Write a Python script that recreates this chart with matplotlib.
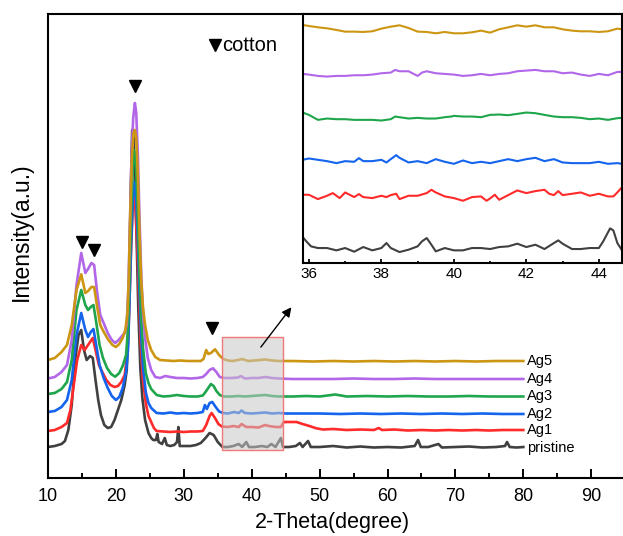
import matplotlib
matplotlib.use("Agg")
import matplotlib.pyplot as plt
from matplotlib.ticker import MultipleLocator
from matplotlib.patches import Rectangle

plt.rcParams["font.family"] = ["Liberation Sans", "DejaVu Sans"]

# ---- data: (2-theta, intensity a.u.), stacked ----
pristine = [
    (10.0, 31), (11.0, 32), (12.0, 34), (12.5, 37), (13.0, 48), (13.5, 73),
    (14.0, 118), (14.5, 143), (14.9, 148), (15.3, 128), (15.7, 118), (16.2, 122),
    (16.6, 120), (17.0, 98), (17.4, 78), (17.8, 63), (18.3, 53), (18.8, 50),
    (19.3, 51), (19.8, 58), (20.3, 68), (20.8, 78), (21.3, 93), (21.6, 108),
    (21.8, 140), (22.0, 210), (22.2, 290), (22.4, 348), (22.6, 343), (22.8, 305),
    (23.05, 240), (23.3, 170), (23.6, 110), (23.9, 80), (24.3, 58), (24.8, 45),
    (25.2, 40), (25.5, 38), (25.9, 38), (26.1, 44), (26.3, 36), (26.8, 34),
    (27.2, 40), (27.5, 33), (28.0, 32), (28.6, 33), (29.0, 36), (29.2, 51),
    (29.4, 32), (30.0, 32), (31.0, 32), (31.8, 33), (32.5, 35), (33.2, 40),
    (33.8, 45), (34.4, 43), (35.0, 36), (35.7, 31), (36.5, 31), (37.3, 32),
    (38.1, 34), (38.6, 31), (39.2, 36), (39.6, 31), (40.5, 31), (41.5, 32),
    (42.3, 31), (42.9, 34), (43.5, 31), (44.3, 40), (44.6, 31), (45.5, 31),
    (46.5, 32), (47.1, 35), (47.5, 31), (48.3, 37), (48.7, 31), (50.0, 31),
    (52.0, 32), (54.0, 30.5), (56.0, 31.5), (58.0, 30.5), (60.0, 31), (62.0, 30.5),
    (64.0, 32), (64.5, 38), (64.9, 31), (66.0, 31), (67.5, 34), (68.0, 30.5),
    (70.0, 31), (72.0, 31.5), (74.0, 30.5), (76.0, 31), (77.3, 32), (77.6, 36),
    (78.0, 31), (79.0, 30.5), (80.0, 31),
]
ag1 = [
    (10.0, 47), (11.0, 48), (12.0, 51), (12.8, 55), (13.3, 68), (13.8, 93),
    (14.3, 118), (14.9, 133), (15.4, 128), (15.9, 133), (16.6, 140), (17.0, 128),
    (17.5, 113), (18.0, 106), (18.6, 98), (19.2, 93), (19.8, 91), (20.3, 92),
    (20.8, 96), (21.3, 103), (21.7, 125), (21.95, 165), (22.2, 220), (22.45, 265),
    (22.65, 278), (22.9, 268), (23.15, 230), (23.4, 180), (23.65, 135), (23.95, 100),
    (24.4, 75), (24.8, 62), (25.2, 56), (25.6, 50), (26.0, 47), (27.0, 46.5),
    (28.0, 46), (29.0, 46.5), (30.0, 46), (31.0, 46.5), (32.0, 46.5), (32.8, 47),
    (33.3, 53), (33.8, 62), (34.1, 65), (34.6, 60), (35.1, 54), (35.6, 51.5),
    (36.5, 51), (37.3, 52), (38.1, 51), (38.5, 54), (39.2, 51), (40.0, 51),
    (41.0, 50.5), (42.0, 53), (42.5, 52), (43.5, 51), (44.3, 51), (44.7, 56),
    (45.5, 56), (46.6, 56), (47.5, 54), (48.5, 52), (49.5, 49.7), (50.5, 48.5),
    (52.0, 49), (54.0, 48), (56.0, 48.5), (58.0, 48), (58.7, 50), (59.2, 48),
    (61.0, 48.5), (63.0, 47.5), (65.0, 48), (67.0, 47.5), (69.0, 48), (71.0, 47.5),
    (73.0, 48), (75.0, 47.5), (77.0, 48), (80.0, 48),
]
ag2 = [
    (10.0, 66), (11.0, 67), (12.0, 71), (12.8, 78), (13.5, 98), (14.2, 143),
    (14.9, 165), (15.5, 148), (15.9, 141), (16.3, 146), (16.7, 149), (17.1, 133),
    (17.6, 113), (18.2, 100), (18.8, 90), (19.4, 82), (20.0, 78), (20.5, 81),
    (21.0, 90), (21.5, 106), (21.8, 130), (22.0, 175), (22.25, 235), (22.5, 280),
    (22.7, 296), (22.95, 285), (23.2, 245), (23.45, 190), (23.7, 145), (24.0, 110),
    (24.4, 86), (24.8, 75), (25.2, 70), (26.0, 65), (27.0, 64.5), (28.0, 65.5),
    (29.0, 64.5), (30.0, 65), (31.0, 64.5), (32.0, 65), (32.8, 66), (33.1, 73),
    (33.4, 69), (33.8, 75), (34.2, 76), (34.7, 71), (35.2, 66.5), (35.8, 65),
    (36.5, 64.5), (37.4, 66), (38.1, 65), (38.5, 67.5), (39.0, 65), (40.0, 64.5),
    (41.0, 65), (42.0, 65.5), (43.0, 64.5), (44.0, 65), (45.0, 64.5), (47.0, 64.5),
    (50.0, 64.5), (53.0, 64), (56.0, 64.5), (59.0, 64), (62.0, 64.5), (65.0, 64),
    (68.0, 64.5), (71.0, 64), (74.0, 64.5), (77.0, 64), (80.0, 64),
]
ag3 = [
    (10.0, 84), (11.0, 85), (12.0, 89), (12.8, 96), (13.5, 118), (14.2, 168),
    (14.9, 188), (15.5, 173), (15.9, 168), (16.3, 171), (16.7, 173), (17.1, 156),
    (17.6, 133), (18.1, 120), (18.7, 110), (19.3, 104), (19.9, 101.3), (20.5, 105),
    (21.0, 112), (21.5, 123), (21.8, 150), (22.0, 200), (22.25, 265), (22.5, 310),
    (22.7, 328), (22.95, 315), (23.2, 270), (23.45, 210), (23.7, 165), (24.0, 130),
    (24.4, 105), (24.8, 95), (25.2, 89), (26.0, 83), (27.0, 81.5), (28.0, 82),
    (29.0, 83), (30.0, 82), (31.0, 81.5), (32.0, 81.5), (32.8, 82.5), (33.2, 86),
    (33.6, 90), (34.0, 94), (34.4, 92), (34.8, 87), (35.3, 83), (35.9, 81.5),
    (37.0, 81.5), (38.0, 82), (39.0, 81.5), (40.0, 82), (41.0, 82.5), (42.0, 83),
    (43.0, 82), (44.0, 81.5), (46.0, 81.5), (48.0, 82), (50.0, 81.5), (52.3, 83.5),
    (54.0, 81.5), (57.0, 82), (60.0, 81.5), (63.0, 82), (66.0, 81.5), (69.0, 81.5),
    (72.0, 82), (75.0, 81.5), (78.0, 81.5), (80.0, 81.5),
]
ag4 = [
    (10.0, 99.5), (11.0, 101), (12.0, 106), (12.8, 113), (13.5, 138), (14.2, 193),
    (14.9, 225), (15.5, 205), (15.9, 209), (16.4, 215), (16.8, 213), (17.2, 188),
    (17.7, 163), (18.2, 155), (18.8, 145), (19.4, 138), (19.9, 135), (20.4, 138),
    (20.9, 142), (21.3, 145), (21.6, 153), (21.85, 190), (22.05, 250), (22.3, 320),
    (22.55, 360), (22.8, 375), (23.0, 365), (23.25, 320), (23.5, 255), (23.75, 200),
    (24.0, 165), (24.3, 140), (24.7, 120), (25.2, 108), (25.8, 101), (26.5, 100),
    (27.3, 102), (28.0, 101), (29.0, 100), (30.0, 100), (31.0, 99.5), (32.0, 100),
    (32.8, 101), (33.3, 104), (33.8, 108), (34.3, 109.7), (34.8, 106), (35.3, 101),
    (36.0, 100), (37.0, 100), (38.0, 100.5), (38.4, 102), (39.0, 99.5), (40.0, 100),
    (41.0, 100), (42.0, 101), (43.0, 100), (44.0, 99.5), (46.0, 99), (49.0, 99),
    (52.0, 99), (55.0, 99.5), (58.0, 99), (61.0, 99), (64.0, 99.5), (67.0, 99),
    (70.0, 99), (73.0, 99), (76.0, 99), (80.0, 99),
]
ag5 = [
    (10.0, 118), (11.0, 120), (12.0, 126), (12.8, 133), (13.5, 153), (14.2, 188),
    (14.9, 203.7), (15.5, 185), (15.9, 187), (16.4, 191), (16.8, 191), (17.2, 173),
    (17.7, 153), (18.3, 145), (18.9, 138), (19.5, 133), (20.0, 131), (20.5, 134),
    (21.0, 140), (21.4, 148), (21.7, 165), (21.9, 200), (22.1, 260), (22.35, 320),
    (22.6, 345), (22.8, 348), (23.0, 340), (23.25, 300), (23.5, 240), (23.75, 195),
    (24.0, 170), (24.3, 153), (24.7, 138), (25.2, 128), (25.8, 121), (26.5, 118),
    (27.5, 117.5), (28.5, 117), (29.5, 117.5), (30.5, 117), (31.5, 117), (32.5, 117),
    (32.9, 119), (33.3, 128), (33.6, 124), (34.0, 125), (34.6, 128.7), (35.2, 123),
    (35.8, 119), (36.5, 117.5), (37.2, 117), (38.0, 118), (38.6, 119), (39.5, 117),
    (40.3, 117.5), (41.2, 118), (42.0, 118.5), (43.0, 117.5), (44.0, 117), (46.0, 117),
    (49.0, 116.5), (52.0, 117), (55.0, 116.5), (58.0, 117), (61.0, 116.5), (64.0, 117),
    (67.0, 116.5), (70.0, 117), (73.0, 116.5), (76.0, 117), (80.0, 117),
]

# zoomed 36-44.6 deg region (inset), its own offsets
inset_pristine = [
    (35.83, 78), (35.93, 65), (36.06, 50), (36.25, 45), (36.5, 45), (36.76, 38),
    (37.0, 45), (37.25, 34), (37.5, 48), (37.75, 38), (38.0, 45), (38.14, 60),
    (38.26, 45), (38.5, 33), (38.75, 40), (39.0, 50), (39.12, 65), (39.25, 75),
    (39.38, 55), (39.5, 35), (39.75, 45), (40.0, 38), (40.25, 38), (40.5, 45),
    (40.75, 45), (41.0, 42), (41.25, 48), (41.5, 50), (41.75, 58), (42.0, 48),
    (42.25, 55), (42.5, 42), (42.76, 60), (42.88, 68), (43.0, 58), (43.26, 42),
    (43.5, 42), (43.75, 45), (44.0, 45), (44.12, 65), (44.31, 104), (44.4, 98),
    (44.51, 60), (44.64, 38),
]
inset_ag1 = [
    (35.83, 205), (36.0, 205), (36.25, 192), (36.5, 202), (36.66, 210), (36.85, 195),
    (37.0, 212), (37.25, 198), (37.38, 207), (37.5, 198), (37.75, 195), (38.0, 202),
    (38.14, 198), (38.26, 204), (38.41, 208), (38.5, 192), (38.75, 202), (39.0, 202),
    (39.25, 210), (39.38, 220), (39.5, 212), (39.75, 200), (40.0, 195), (40.25, 187),
    (40.5, 198), (40.75, 200), (40.9, 187), (41.0, 194), (41.13, 205), (41.25, 190),
    (41.5, 204), (41.75, 218), (42.0, 210), (42.25, 216), (42.5, 220), (42.63, 208),
    (42.76, 204), (42.88, 216), (43.0, 204), (43.26, 208), (43.5, 212), (43.75, 202),
    (44.0, 208), (44.25, 200), (44.4, 200), (44.51, 212), (44.64, 228),
]
inset_ag2 = [
    (35.83, 310), (36.0, 314), (36.25, 310), (36.5, 306), (36.76, 300), (37.0, 306),
    (37.25, 304), (37.38, 315), (37.5, 306), (37.75, 306), (38.0, 310), (38.14, 302),
    (38.26, 312), (38.41, 324), (38.5, 316), (38.75, 302), (39.0, 306), (39.25, 300),
    (39.5, 312), (39.75, 304), (40.0, 298), (40.25, 308), (40.5, 300), (40.75, 304),
    (41.0, 300), (41.25, 306), (41.5, 312), (41.75, 306), (42.0, 312), (42.25, 316),
    (42.5, 306), (42.76, 312), (43.0, 302), (43.26, 300), (43.5, 300), (43.75, 300),
    (44.0, 304), (44.25, 298), (44.51, 300), (44.64, 298),
]
inset_ag3 = [
    (35.83, 452), (36.0, 445), (36.25, 430), (36.5, 434), (36.76, 432), (37.0, 432),
    (37.25, 430), (37.5, 430), (37.75, 430), (38.0, 428), (38.26, 432), (38.38, 440),
    (38.5, 438), (38.75, 434), (39.0, 436), (39.25, 434), (39.5, 434), (39.75, 438),
    (39.93, 440), (40.0, 442), (40.25, 440), (40.5, 440), (40.75, 438), (41.0, 445),
    (41.25, 446), (41.5, 444), (41.75, 448), (42.0, 452), (42.25, 450), (42.5, 445),
    (42.76, 440), (43.0, 438), (43.26, 438), (43.5, 436), (43.75, 432), (44.0, 434),
    (44.25, 430), (44.51, 435), (44.64, 436),
]
inset_ag4 = [
    (35.83, 568), (36.0, 566), (36.25, 562), (36.5, 560), (36.76, 562), (37.0, 562),
    (37.25, 564), (37.5, 564), (37.75, 566), (38.0, 570), (38.26, 572), (38.38, 580),
    (38.5, 576), (38.75, 576), (39.0, 562), (39.12, 572), (39.25, 576), (39.5, 570),
    (39.75, 568), (40.0, 566), (40.25, 562), (40.5, 564), (40.75, 568), (41.0, 564),
    (41.25, 568), (41.5, 570), (41.75, 576), (42.0, 578), (42.25, 580), (42.5, 576),
    (42.76, 576), (43.0, 570), (43.26, 572), (43.5, 566), (43.75, 562), (44.0, 568),
    (44.25, 564), (44.51, 574), (44.64, 574),
]
inset_ag5 = [
    (35.83, 715), (36.0, 712), (36.25, 708), (36.5, 705), (36.76, 700), (37.0, 695),
    (37.25, 695), (37.5, 694), (37.75, 696), (38.0, 704), (38.26, 710), (38.5, 714),
    (38.75, 706), (39.0, 695), (39.25, 694), (39.5, 690), (39.75, 694), (40.0, 690),
    (40.25, 690), (40.5, 693), (40.75, 698), (41.0, 692), (41.25, 702), (41.5, 708),
    (41.75, 714), (42.0, 710), (42.25, 714), (42.5, 708), (42.76, 708), (43.0, 702),
    (43.26, 698), (43.5, 696), (43.75, 696), (44.0, 694), (44.25, 696), (44.51, 704),
    (44.64, 702),
]

labels = ["pristine", "Ag1", "Ag2", "Ag3", "Ag4", "Ag5"]
label_levels = [30.5, 48, 64.5, 82, 99, 117]
colors = ["#404040", "#FF2A2A", "#1464EE", "#1FA64C", "#B266E8", "#CC9612"]

cotton_deg = [15.05, 16.8, 22.8, 34.1]
cotton_mark = [236, 228, 392, 150]

main_series = [pristine, ag1, ag2, ag3, ag4, ag5]
inset_series = [inset_pristine, inset_ag1, inset_ag2, inset_ag3, inset_ag4, inset_ag5]

# ---- figure ----
fig = plt.figure(figsize=(6.23, 5.36), dpi=100)
ax = fig.add_axes([0.0770, 0.1082, 0.9265, 0.8657])

for data, c in zip(main_series, colors):
    x, y = zip(*data)
    ax.plot(x, y, color=c, lw=1.9, zorder=2)

for lab, lev in zip(labels, label_levels):
    ax.text(80.6, lev, lab, fontsize=10.5, va="center", ha="left")

ax.plot(cotton_deg, cotton_mark, ls="none", marker="v", color="k", ms=8)

# highlighted zoom window
ax.add_patch(Rectangle((35.7, 28), 8.95, 112.7, facecolor="#C8C8C8", alpha=0.55,
                       edgecolor="none", zorder=3))
ax.add_patch(Rectangle((35.7, 28), 8.95, 112.7, facecolor="none",
                       edgecolor="#F07878", lw=1.0, zorder=4))
ax.annotate("", xy=(46.1, 173), xytext=(41.1, 128.7),
            arrowprops=dict(arrowstyle="-|>", color="k", lw=1.0,
                            mutation_scale=14), zorder=5)

# legend "▼cotton"
ax.plot([0.289], [0.933], marker="v", color="k", ms=9, ls="none",
        transform=ax.transAxes)
ax.text(0.302, 0.933, "cotton", fontsize=14.5, va="center", ha="left",
        transform=ax.transAxes)

ax.set_xlim(10, 95)
ax.set_ylim(0, 464)
ax.set_yticks([])
ax.xaxis.set_major_locator(MultipleLocator(10))
ax.xaxis.set_minor_locator(MultipleLocator(5))
ax.tick_params(axis="x", which="major", direction="in", length=6.5, width=1.4,
               labelsize=13, pad=7)
ax.tick_params(axis="x", which="minor", direction="in", length=3.6, width=1.4)
for s in ax.spines.values():
    s.set_linewidth(1.5)
ax.spines["right"].set_visible(False)

ax.set_xlabel("2-Theta(degree)", fontsize=15.5)
ax.xaxis.set_label_coords(0.492, -0.074)
ax.set_ylabel("Intensity(a.u.)", fontsize=16.5)
ax.yaxis.set_label_coords(-0.026, 0.531)

# ---- inset ----
axin = fig.add_axes([0.4859, 0.5093, 0.512, 0.4646])
for data, c in zip(inset_series, colors):
    x, y = zip(*data)
    axin.plot(x, y, color=c, lw=1.5)
axin.set_xlim(35.83, 44.63)
axin.set_ylim(0, 748)
axin.set_yticks([])
axin.xaxis.set_major_locator(MultipleLocator(2))
axin.xaxis.set_minor_locator(MultipleLocator(1))
axin.tick_params(axis="x", which="major", direction="in", length=3, width=1.3,
                 labelsize=11, pad=3)
axin.tick_params(axis="x", which="minor", direction="in", length=1.8, width=1.3)
for s in axin.spines.values():
    s.set_linewidth(1.5)

fig.savefig("out.png", dpi=100)
